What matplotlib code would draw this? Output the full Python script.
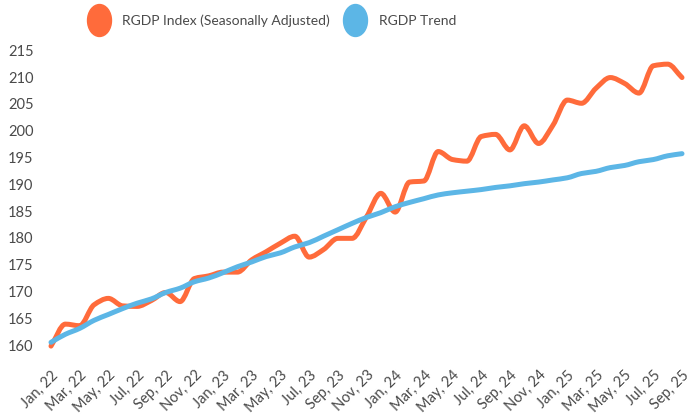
import numpy as np
import matplotlib
matplotlib.use("Agg")
import matplotlib.pyplot as plt
from matplotlib.path import Path
from matplotlib.patches import PathPatch
from matplotlib.lines import Line2D
from matplotlib.transforms import Affine2D

months = ["Jan", "Feb", "Mar", "Apr", "May", "Jun", "Jul", "Aug", "Sep", "Oct", "Nov", "Dec"]
labels = [f"{months[i % 12]}, {22 + i // 12}" for i in range(45)]

rgdp_sa = [159.8, 163.9, 163.6, 167.5, 168.7, 167.3, 167.2, 168.3, 169.8, 168.1,
           172.4, 172.9, 173.6, 173.6, 175.9, 177.4, 179.0, 180.3, 176.4, 177.8,
           179.9, 179.9, 183.9, 188.3, 184.8, 190.4, 190.6, 196.1, 194.6, 194.3,
           198.9, 199.3, 196.4, 200.9, 197.6, 201.0, 205.7, 205.1, 207.9, 209.9,
           208.8, 207.0, 212.1, 212.4, 209.9]
rgdp_trend = [160.5, 162.0, 163.1, 164.6, 165.7, 166.8, 167.8, 168.6, 169.8, 170.6,
              171.8, 172.5, 173.5, 174.6, 175.5, 176.5, 177.2, 178.3, 179.1, 180.3,
              181.5, 182.7, 183.8, 184.7, 185.8, 186.6, 187.3, 188.0, 188.4, 188.7,
              189.0, 189.4, 189.7, 190.1, 190.4, 190.8, 191.2, 192.0, 192.4, 193.1,
              193.5, 194.2, 194.6, 195.3, 195.7]
yticks = [160, 165, 170, 175, 180, 185, 190, 195, 200, 205, 210, 215]

ORANGE = "#FF6B3B"
BLUE = "#5CB6E6"
TXT = "#4a4a4a"
FONT = ["Lato", "DejaVu Sans"]


def smooth_path(x, y):
    x = np.asarray(x, float)
    y = np.asarray(y, float)
    d = np.diff(y) / np.diff(x)
    m = np.zeros_like(y)
    m[0], m[-1] = d[0], d[-1]
    for k in range(1, len(y) - 1):
        if d[k - 1] * d[k] <= 0:
            m[k] = 0.0
        else:
            m[k] = 2.0 / (1.0 / d[k - 1] + 1.0 / d[k])
    verts = [(x[0], y[0])]
    codes = [Path.MOVETO]
    for k in range(len(y) - 1):
        h = x[k + 1] - x[k]
        verts += [(x[k] + h / 3, y[k] + m[k] * h / 3),
                  (x[k + 1] - h / 3, y[k + 1] - m[k + 1] * h / 3),
                  (x[k + 1], y[k + 1])]
        codes += [Path.CURVE4] * 3
    return Path(verts, codes)


fig = plt.figure(figsize=(6.87, 4.16), dpi=100)
ax = fig.add_axes([51 / 687, 0.132, (682 - 51) / 687, 0.8986 - 0.132])
xs = np.arange(len(labels))

for vals, col, z in [(rgdp_sa, ORANGE, 2), (rgdp_trend, BLUE, 3)]:
    ax.add_patch(PathPatch(smooth_path(xs, vals), fill=False, edgecolor=col,
                           lw=3.6, capstyle="round", joinstyle="round",
                           clip_on=False, zorder=z))

ax.set_xlim(0, len(labels) - 1)
ax.set_ylim(157, 216.5)
ax.set_yticks(yticks)
ax.set_yticklabels([str(v) for v in yticks], family=FONT, fontsize=10.5, color=TXT)
ax.set_xticks(xs[::2])
ax.set_xticklabels(labels[::2], rotation=45, ha="right", va="top",
                   rotation_mode="anchor", family=FONT, fontsize=10.5, color=TXT)
ax.tick_params(length=0, pad=5)
ax.tick_params(axis="y", pad=31)
for t in ax.get_yticklabels():
    t.set_horizontalalignment("left")
for s in ax.spines.values():
    s.set_visible(False)

ell = Path.unit_circle().transformed(Affine2D().scale(0.75, 1.0))
handles = [Line2D([], [], ls="none", marker=ell, markersize=23, color=ORANGE),
           Line2D([], [], ls="none", marker=ell, markersize=23, color=BLUE)]
leg = fig.legend(handles, ["RGDP Index (Seasonally Adjusted)", "RGDP Trend"],
                 loc="upper left", bbox_to_anchor=(78 / 687, 0.988), ncol=2, frameon=False,
                 prop={"family": FONT, "size": 10}, handletextpad=0.9,
                 columnspacing=1.0, handlelength=1.6, borderaxespad=0.3)
for t in leg.get_texts():
    t.set_color(TXT)

fig.savefig("out.png", dpi=100)
